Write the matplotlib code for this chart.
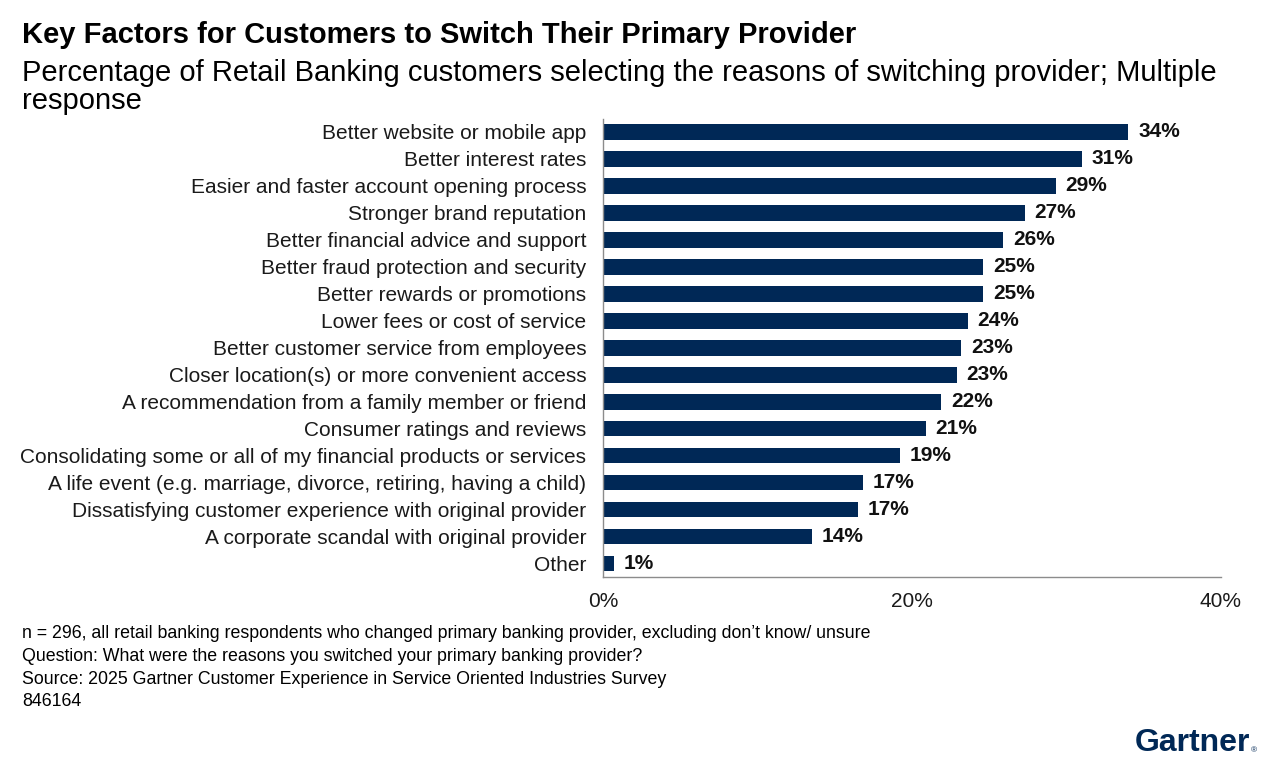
import matplotlib
matplotlib.use("Agg")
import matplotlib.pyplot as plt

plt.rcParams['font.family'] = ['Liberation Sans', 'DejaVu Sans']

categories = [
    "Better website or mobile app",
    "Better interest rates",
    "Easier and faster account opening process",
    "Stronger brand reputation",
    "Better financial advice and support",
    "Better fraud protection and security",
    "Better rewards or promotions",
    "Lower fees or cost of service",
    "Better customer service from employees",
    "Closer location(s) or more convenient access",
    "A recommendation from a family member or friend",
    "Consumer ratings and reviews",
    "Consolidating some or all of my financial products or services",
    "A life event (e.g. marriage, divorce, retiring, having a child)",
    "Dissatisfying customer experience with original provider",
    "A corporate scandal with original provider",
    "Other",
]
values = [34.0, 31.0, 29.3, 27.3, 25.9, 24.6, 24.6, 23.6, 23.2, 22.9, 21.9, 20.9, 19.2, 16.8, 16.5, 13.5, 0.7]
value_labels = ["34%", "31%", "29%", "27%", "26%", "25%", "25%", "24%", "23%", "23%", "22%", "21%", "19%", "17%", "17%", "14%", "1%"]
xticks = [0, 20, 40]
xtick_labels = ["0%", "20%", "40%"]

navy = "#002856"

fig = plt.figure(figsize=(12.8, 7.7), dpi=100)
ax = fig.add_axes([603/1280, 1-577/770, (1221-603)/1280, (577-118.5)/770])

y = list(range(len(categories)))
ax.barh(y, values, height=0.58, color=navy)
ax.set_ylim(len(categories)-0.5, -0.5)
ax.set_xlim(0, 40)
ax.set_yticks(y)
ax.set_yticklabels(categories, fontsize=15, color="#1a1a1a")
ax.set_xticks(xticks)
ax.set_xticklabels(xtick_labels, fontsize=15, color="#1a1a1a")
ax.tick_params(axis='y', length=0, pad=12)
ax.tick_params(axis='x', length=0, pad=11)
for s in ['top', 'right']:
    ax.spines[s].set_visible(False)
for s in ['left', 'bottom']:
    ax.spines[s].set_color("#8c8c8c")
    ax.spines[s].set_linewidth(1.0)

for yi, v, lab in zip(y, values, value_labels):
    ax.annotate(lab, (v, yi), xytext=(7, 0), textcoords='offset points',
                ha='left', va='center', fontsize=15, fontweight='bold', color="#111111")

fig.text(22/1280, 1-35/770, "Key Factors for Customers to Switch Their Primary Provider",
         fontsize=21, fontweight='bold', ha='left', va='center', color="#000000")
fig.text(22/1280, 1-73/770, "Percentage of Retail Banking customers selecting the reasons of switching provider; Multiple",
         fontsize=21, ha='left', va='center', color="#000000")
fig.text(22/1280, 1-101/770, "response",
         fontsize=21, ha='left', va='center', color="#000000")

foot = [
    "n = 296, all retail banking respondents who changed primary banking provider, excluding don\u2019t know/ unsure",
    "Question: What were the reasons you switched your primary banking provider?",
    "Source: 2025 Gartner Customer Experience in Service Oriented Industries Survey",
    "846164",
]
for i, t in enumerate(foot):
    fig.text(22/1280, 1-(634+22.5*i)/770, t, fontsize=12.8, ha='left', va='center', color="#000000")

fig.text(1250/1280, 1-743/770, "Gartner", fontsize=23, fontweight='bold', ha='right', va='center', color=navy)
fig.text(1254/1280, 1-751/770, "\u00ae", fontsize=6, ha='center', va='center', color=navy)

fig.savefig("out.png", dpi=100)
